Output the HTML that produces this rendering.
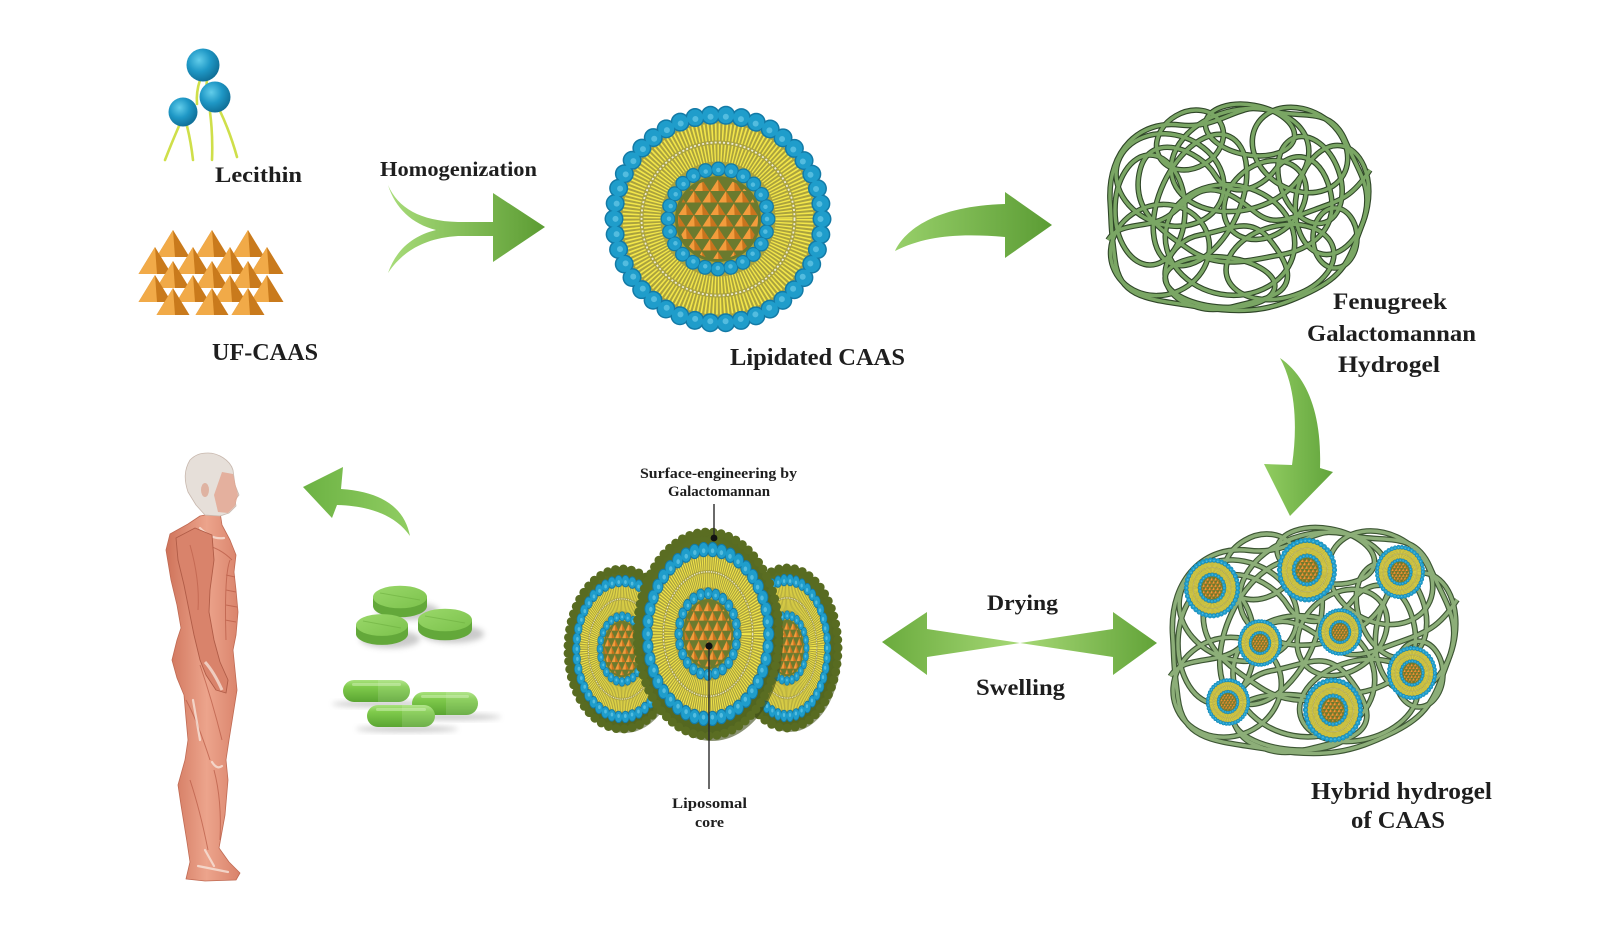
<!DOCTYPE html>
<html><head><meta charset="utf-8">
<style>
html,body{margin:0;padding:0;background:#fff;}
svg{display:block;}
text{font-family:"Liberation Serif","DejaVu Serif",serif;font-weight:bold;fill:#1e1e1e;}
</style></head>
<body>
<svg width="1614" height="933" viewBox="0 0 1614 933" xmlns="http://www.w3.org/2000/svg" xmlns:xlink="http://www.w3.org/1999/xlink">
<defs>
 <radialGradient id="bh" cx="0.38" cy="0.35" r="0.7">
  <stop offset="0" stop-color="#62cdea"/><stop offset="0.5" stop-color="#1f98c6"/><stop offset="1" stop-color="#0e6b93"/>
 </radialGradient>
 <linearGradient id="gA1" gradientUnits="userSpaceOnUse" x1="388" y1="0" x2="545" y2="0"><stop offset="0" stop-color="#a8dc7a"/><stop offset="1" stop-color="#5c9c33"/></linearGradient>
 <linearGradient id="gA2" gradientUnits="userSpaceOnUse" x1="895" y1="0" x2="1052" y2="0"><stop offset="0" stop-color="#98d06a"/><stop offset="1" stop-color="#5b9c34"/></linearGradient>
 <linearGradient id="gA3" gradientUnits="userSpaceOnUse" x1="1265" y1="0" x2="1333" y2="0"><stop offset="0" stop-color="#90cc60"/><stop offset="1" stop-color="#62a43c"/></linearGradient>
 <linearGradient id="gA4" gradientUnits="userSpaceOnUse" x1="303" y1="0" x2="410" y2="0"><stop offset="0" stop-color="#6cb243"/><stop offset="1" stop-color="#90cd62"/></linearGradient>
 <linearGradient id="gDL" gradientUnits="userSpaceOnUse" x1="882" y1="0" x2="1020" y2="0"><stop offset="0" stop-color="#6aab3d"/><stop offset="1" stop-color="#a6d876"/></linearGradient>
 <linearGradient id="gDR" gradientUnits="userSpaceOnUse" x1="1020" y1="0" x2="1157" y2="0"><stop offset="0" stop-color="#a6d876"/><stop offset="1" stop-color="#62a338"/></linearGradient>
 <linearGradient id="cap" x1="0" y1="0" x2="0" y2="1"><stop offset="0" stop-color="#a9e27e"/><stop offset="0.3" stop-color="#80cb4c"/><stop offset="1" stop-color="#5aa532"/></linearGradient>
 <linearGradient id="tabTop" x1="0" y1="0" x2="1" y2="1"><stop offset="0" stop-color="#9ad86a"/><stop offset="1" stop-color="#7cc24c"/></linearGradient>
 <radialGradient id="gal" cx="0.45" cy="0.42" r="0.6"><stop offset="0" stop-color="#6a7f2b"/><stop offset="1" stop-color="#51641f"/></radialGradient>
 <linearGradient id="skin" x1="0" y1="0" x2="1" y2="0"><stop offset="0" stop-color="#cf735a"/><stop offset="0.55" stop-color="#eca48c"/><stop offset="1" stop-color="#d9826a"/></linearGradient>
 <filter id="bl" x="-50%" y="-50%" width="200%" height="200%"><feGaussianBlur stdDeviation="3"/></filter>

 <pattern id="trip" patternUnits="userSpaceOnUse" width="16" height="24" x="-8" y="-40">
  <rect width="16" height="24" fill="#6b7a2e"/>
  <polygon points="8,0.5 0.5,12 15.5,12" fill="#c8741e"/>
  <polygon points="8,0.5 0.5,12 8.6,12" fill="#f39c3c"/>
  <polygon points="0,12 -7.5,23.5 7.5,23.5" fill="#c8741e"/>
  <polygon points="0,12 -7.5,23.5 0.6,23.5" fill="#f39c3c"/>
  <polygon points="16,12 8.5,23.5 23.5,23.5" fill="#c8741e"/>
  <polygon points="16,12 8.5,23.5 16.6,23.5" fill="#f39c3c"/>
 </pattern>

 <g id="lipo">
  <circle r="98" fill="#aaa23e"/>
  <circle r="87" fill="none" stroke="#f3e64a" stroke-width="17" stroke-dasharray="1.6 2"/>
  <circle r="66" fill="none" stroke="#f3e64a" stroke-width="17" stroke-dasharray="1.4 1.8"/>
  <circle r="76.5" fill="none" stroke="#ffffff" stroke-width="1.8" stroke-dasharray="2 2.2" opacity="0.8"/>
  <circle r="104" fill="none" stroke="#137aa6" stroke-width="19" stroke-linecap="round" stroke-dasharray="0 15.558"/>
  <circle r="104" fill="none" stroke="#1f9dcb" stroke-width="16" stroke-linecap="round" stroke-dasharray="0 15.558"/>
  <circle r="102.5" fill="none" stroke="#7dd6f0" stroke-width="6" stroke-linecap="round" stroke-dasharray="0 15.334" opacity="0.55"/>
  <circle r="50" fill="none" stroke="#137aa6" stroke-width="15" stroke-linecap="round" stroke-dasharray="0 13.09"/>
  <circle r="50" fill="none" stroke="#1f9dcb" stroke-width="12.5" stroke-linecap="round" stroke-dasharray="0 13.09"/>
  <circle r="49" fill="none" stroke="#7dd6f0" stroke-width="4.5" stroke-linecap="round" stroke-dasharray="0 12.828" opacity="0.55"/>
  <circle r="43" fill="#6b7a2e"/>
  <circle r="40" fill="url(#trip)"/>
 </g>

 <g id="py">
  <polygon points="0,0 -16.5,27 16.5,27" fill="#c97a1c"/>
  <polygon points="0,0 -16.5,27 2,27" fill="#f1aa48"/>
 </g>

 <g id="tng" fill="none">
  <path d="M1110,200 C1108,150 1140,120 1180,125 S1240,100 1270,110 S1330,105 1345,140 S1375,190 1362,225 S1345,275 1310,292 S1250,315 1200,307 S1120,300 1115,260 S1112,230 1110,200Z"/>
  <path d="M1140,170 C1150,130 1200,150 1215,175 S1260,190 1275,170 S1320,150 1330,190 S1310,250 1280,255 S1220,270 1190,250 S1130,210 1140,170Z"/>
  <path d="M1180,300 C1150,280 1170,240 1200,235 S1250,215 1270,240 S1300,290 1260,300 S1210,315 1180,300Z"/>
  <path d="M1108,240 C1120,220 1150,230 1170,215 S1200,180 1230,195 S1260,230 1300,215 S1350,200 1370,170"/>
  <ellipse cx="1170" cy="180" rx="55" ry="45" transform="rotate(20 1170 180)"/>
  <ellipse cx="1240" cy="160" rx="70" ry="50" transform="rotate(-15 1240 160)"/>
  <ellipse cx="1300" cy="150" rx="50" ry="40" transform="rotate(30 1300 150)"/>
  <ellipse cx="1332" cy="200" rx="36" ry="55" transform="rotate(10 1332 200)"/>
  <ellipse cx="1160" cy="250" rx="50" ry="45" transform="rotate(-20 1160 250)"/>
  <ellipse cx="1230" cy="240" rx="65" ry="55" transform="rotate(10 1230 240)"/>
  <ellipse cx="1280" cy="262" rx="55" ry="36" transform="rotate(-15 1280 262)"/>
  <ellipse cx="1200" cy="200" rx="40" ry="70" transform="rotate(25 1200 200)"/>
  <ellipse cx="1265" cy="200" rx="45" ry="35" transform="rotate(-40 1265 200)"/>
  <ellipse cx="1150" cy="210" rx="35" ry="55"/>
  <ellipse cx="1310" cy="180" rx="30" ry="45" transform="rotate(-20 1310 180)"/>
  <ellipse cx="1220" cy="282" rx="55" ry="25" transform="rotate(5 1220 282)"/>
  <ellipse cx="1250" cy="130" rx="45" ry="25" transform="rotate(10 1250 130)"/>
  <ellipse cx="1190" cy="140" rx="35" ry="28" transform="rotate(-30 1190 140)"/>
  <ellipse cx="1335" cy="238" rx="22" ry="30"/>
 </g>
</defs>
<rect width="1614" height="933" fill="#fff"/>

<!-- Lecithin -->
<g fill="none" stroke="#cfdf4a" stroke-width="2.6" stroke-linecap="round">
 <path d="M200,80 Q196,92 197,104"/>
 <path d="M207,80 Q206,92 204,104"/>
 <path d="M179,126 Q172,142 165,160"/>
 <path d="M187,126 Q191,142 193,160"/>
 <path d="M210,112 Q213,135 212,160"/>
 <path d="M220,111 Q230,132 237,157"/>
</g>
<circle cx="203" cy="65" r="16.5" fill="url(#bh)"/>
<circle cx="215" cy="97" r="15.5" fill="url(#bh)"/>
<circle cx="183" cy="112" r="14.5" fill="url(#bh)"/>
<text x="215" y="182" font-size="22" textLength="87" lengthAdjust="spacingAndGlyphs">Lecithin</text>

<!-- UF-CAAS pyramids -->
<use href="#py" xlink:href="#py" x="173" y="230"/><use href="#py" xlink:href="#py" x="212" y="230"/><use href="#py" xlink:href="#py" x="248" y="230"/>
<use href="#py" xlink:href="#py" x="155" y="247"/><use href="#py" xlink:href="#py" x="193" y="247"/><use href="#py" xlink:href="#py" x="230" y="247"/><use href="#py" xlink:href="#py" x="267" y="247"/>
<use href="#py" xlink:href="#py" x="173" y="261"/><use href="#py" xlink:href="#py" x="212" y="261"/><use href="#py" xlink:href="#py" x="248" y="261"/>
<use href="#py" xlink:href="#py" x="155" y="275"/><use href="#py" xlink:href="#py" x="193" y="275"/><use href="#py" xlink:href="#py" x="230" y="275"/><use href="#py" xlink:href="#py" x="267" y="275"/>
<use href="#py" xlink:href="#py" x="173" y="288"/><use href="#py" xlink:href="#py" x="212" y="288"/><use href="#py" xlink:href="#py" x="248" y="288"/>
<text x="212" y="360" font-size="24" textLength="106" lengthAdjust="spacingAndGlyphs">UF-CAAS</text>

<text x="380" y="176" font-size="21" textLength="157" lengthAdjust="spacingAndGlyphs">Homogenization</text>
<path fill="url(#gA1)" d="M388,185 C398,208 420,221 458,222 L493,222 L493,193 L545,227 L493,262 L493,236 L458,236 C424,238 402,252 388,273 C396,250 412,236 436,230 C412,224 395,208 388,185 Z"/>

<!-- Lipidated CAAS -->
<use href="#lipo" xlink:href="#lipo" transform="translate(718,219)"/>
<text x="730" y="365" font-size="24" textLength="175" lengthAdjust="spacingAndGlyphs">Lipidated CAAS</text>

<path fill="url(#gA2)" d="M895,251 C905,230 935,206 1005,204 L1005,192 L1052,225 L1005,258 L1005,237 C958,233 925,236 895,251 Z"/>

<!-- Fenugreek tangle -->
<use href="#tng" xlink:href="#tng" stroke="#2f4628" stroke-width="5.6"/>
<use href="#tng" xlink:href="#tng" stroke="#7aa664" stroke-width="3.4"/>
<text x="1333" y="309" font-size="23" textLength="114" lengthAdjust="spacingAndGlyphs">Fenugreek</text>
<text x="1307" y="341" font-size="23" textLength="169" lengthAdjust="spacingAndGlyphs">Galactomannan</text>
<text x="1338" y="372" font-size="23" textLength="102" lengthAdjust="spacingAndGlyphs">Hydrogel</text>

<path fill="url(#gA3)" d="M1280,358 C1305,375 1322,410 1320,468 L1333,472 L1290,516 L1264,464 L1292,465 C1298,425 1295,385 1280,358 Z"/>

<!-- Hybrid hydrogel -->
<g transform="matrix(1.095 0 0 1.095 -42.975 413.5)">
 <use href="#tng" xlink:href="#tng" stroke="#3d5634" stroke-width="5.2"/>
 <use href="#tng" xlink:href="#tng" stroke="#8cae78" stroke-width="3.1"/>
</g>
<use href="#lipo" xlink:href="#lipo" transform="translate(1212,588) scale(0.248,0.268)"/>
<use href="#lipo" xlink:href="#lipo" transform="translate(1307,570) scale(0.265,0.286)"/>
<use href="#lipo" xlink:href="#lipo" transform="translate(1400,572) scale(0.221,0.239)"/>
<use href="#lipo" xlink:href="#lipo" transform="translate(1260,643) scale(0.195,0.21)"/>
<use href="#lipo" xlink:href="#lipo" transform="translate(1340,632) scale(0.195,0.21)"/>
<use href="#lipo" xlink:href="#lipo" transform="translate(1412,673) scale(0.221,0.239)"/>
<use href="#lipo" xlink:href="#lipo" transform="translate(1228,702) scale(0.195,0.21)"/>
<use href="#lipo" xlink:href="#lipo" transform="translate(1333,710) scale(0.265,0.286)"/>
<text x="1311" y="799" font-size="24" textLength="181" lengthAdjust="spacingAndGlyphs">Hybrid hydrogel</text>
<text x="1351" y="828" font-size="24" textLength="94" lengthAdjust="spacingAndGlyphs">of CAAS</text>

<!-- Drying / swelling -->
<path fill="url(#gDL)" d="M882,642 L927,612 L927,629 L1020,643 L927,657 L927,675 Z"/>
<path fill="url(#gDR)" d="M1157,643 L1113,612 L1113,629 L1020,643 L1113,657 L1113,675 Z"/>
<text x="987" y="610" font-size="22" textLength="71" lengthAdjust="spacingAndGlyphs">Drying</text>
<text x="976" y="695" font-size="23" textLength="89" lengthAdjust="spacingAndGlyphs">Swelling</text>

<!-- Galactomannan cluster -->
<ellipse cx="625" cy="653" rx="54" ry="80" fill="#3c4a16" opacity="0.55"/>
<ellipse cx="622" cy="649" rx="54" ry="80" fill="url(#gal)" stroke="#586b21" stroke-width="9" stroke-linecap="round" stroke-dasharray="0 8"/>
<use href="#lipo" xlink:href="#lipo" transform="translate(622,649) scale(0.44,0.655)"/>
<ellipse cx="790" cy="652" rx="51" ry="80" fill="#3c4a16" opacity="0.55"/>
<ellipse cx="787" cy="648" rx="51" ry="80" fill="url(#gal)" stroke="#586b21" stroke-width="9" stroke-linecap="round" stroke-dasharray="0 8"/>
<use href="#lipo" xlink:href="#lipo" transform="translate(787,648) scale(0.39,0.655)"/>
<ellipse cx="712" cy="639" rx="71" ry="102" fill="#3c4a16" opacity="0.6"/>
<ellipse cx="708" cy="634" rx="71" ry="102" fill="url(#gal)" stroke="#5a6d22" stroke-width="9" stroke-linecap="round" stroke-dasharray="0 8"/>
<use href="#lipo" xlink:href="#lipo" transform="translate(708,634) scale(0.584,0.814)"/>

<text x="640" y="478" font-size="15" textLength="157" lengthAdjust="spacingAndGlyphs">Surface-engineering by</text>
<text x="668" y="496" font-size="15" textLength="102" lengthAdjust="spacingAndGlyphs">Galactomannan</text>
<line x1="714" y1="504" x2="714" y2="538" stroke="#2a2a2a" stroke-width="1.4"/>
<circle cx="714" cy="538" r="3.4" fill="#111"/>
<line x1="709" y1="646" x2="709" y2="789" stroke="#2a2a2a" stroke-width="1.4"/>
<circle cx="709" cy="646" r="3.6" fill="#111"/>
<text x="672" y="808" font-size="15" textLength="75" lengthAdjust="spacingAndGlyphs">Liposomal</text>
<text x="695" y="827" font-size="15" textLength="29" lengthAdjust="spacingAndGlyphs">core</text>

<!-- arrow to human -->
<path fill="url(#gA4)" d="M410,536 C405,510 385,492 341,489 L343,467 L303,487 L332,518 L337,505 C370,506 395,515 410,536 Z"/>

<!-- tablets -->
<ellipse cx="408" cy="611" rx="31" ry="9" fill="#8a8a8a" opacity="0.45" filter="url(#bl)"/>
<path d="M373,597 L373,606 A27,11.3 0 0 0 427,606 L427,597 Z" fill="#63a83a"/>
<ellipse cx="400" cy="597" rx="27" ry="11.3" fill="url(#tabTop)"/>
<path d="M380,593 L420,600" stroke="#6eb040" stroke-width="1" opacity="0.6"/>
<ellipse cx="453" cy="634" rx="31" ry="9" fill="#8a8a8a" opacity="0.45" filter="url(#bl)"/>
<path d="M418,620 L418,629 A27,11.3 0 0 0 472,629 L472,620 Z" fill="#63a83a"/>
<ellipse cx="445" cy="620" rx="27" ry="11.3" fill="url(#tabTop)"/>
<path d="M425,616 L465,623" stroke="#6eb040" stroke-width="1" opacity="0.6"/>
<ellipse cx="390" cy="639" rx="30" ry="9" fill="#8a8a8a" opacity="0.45" filter="url(#bl)"/>
<path d="M356,625 L356,634 A26,10.9 0 0 0 408,634 L408,625 Z" fill="#63a83a"/>
<ellipse cx="382" cy="625" rx="26" ry="10.9" fill="url(#tabTop)"/>
<path d="M363,621 L401,628" stroke="#6eb040" stroke-width="1" opacity="0.6"/>

<!-- capsules -->
<ellipse cx="382" cy="704" rx="50" ry="3" fill="#777" opacity="0.4" filter="url(#bl)"/>
<rect x="343" y="680" width="67" height="22" rx="11" fill="url(#cap)"/>
<path d="M378,680 L399,680 A11,11 0 0 1 399,702 L378,702 Z" fill="#fff" opacity="0.12"/>
<rect x="352" y="683" width="49" height="3" rx="1.5" fill="#d9f5c2" opacity="0.45"/>
<ellipse cx="451" cy="717" rx="50" ry="3" fill="#777" opacity="0.4" filter="url(#bl)"/>
<rect x="412" y="692" width="66" height="23" rx="11.5" fill="url(#cap)"/>
<path d="M446,692 L466.5,692 A11.5,11.5 0 0 1 466.5,715 L446,715 Z" fill="#fff" opacity="0.12"/>
<rect x="421" y="695" width="48" height="3" rx="1.5" fill="#d9f5c2" opacity="0.45"/>
<ellipse cx="407" cy="729" rx="51" ry="3" fill="#777" opacity="0.4" filter="url(#bl)"/>
<rect x="367" y="705" width="68" height="22" rx="11" fill="url(#cap)"/>
<path d="M402,705 L424,705 A11,11 0 0 1 424,727 L402,727 Z" fill="#fff" opacity="0.12"/>
<rect x="376" y="708" width="50" height="3" rx="1.5" fill="#d9f5c2" opacity="0.45"/>

<!-- human -->
<polygon points="220,512 222,525 230,540 236,555 234,572 236,590 238,612 236,635 233,650 235,670 237,690 233,715 229,740 226,760 228,780 225,815 219,848 229,862 240,873 236,880 205,881 186,879 190,862 187,842 181,805 178,785 185,760 188,740 186,718 184,695 177,678 172,660 177,640 181,628 177,605 171,580 166,550 170,534 188,524 200,516" fill="url(#skin)" stroke="#c06a53" stroke-width="0.8" stroke-linejoin="round"/>
<g fill="none" stroke="#b85a45" stroke-width="1" opacity="0.7">
 <path d="M226,575 L235,577"/><path d="M226,590 L236,592"/><path d="M226,605 L237,607"/><path d="M225,620 L236,622"/>
 <path d="M230,560 Q224,575 226,640"/><path d="M186,700 Q197,720 210,760"/><path d="M200,665 Q212,700 222,740"/>
 <path d="M190,780 Q200,810 208,850"/><path d="M214,770 Q222,800 220,840"/><path d="M178,560 Q190,580 196,600"/>
 <path d="M205,545 Q220,548 232,560"/>
</g>
<g fill="none" stroke="#f7e4da" stroke-width="2.2" opacity="0.8" stroke-linecap="round">
 <path d="M212,762 Q217,770 222,766"/><path d="M205,850 L214,866"/><path d="M198,866 L228,872"/><path d="M200,528 Q212,540 224,538"/>
 <path d="M193,700 L200,740"/>
</g>
<polygon points="176,538 195,528 212,535 214,560 210,590 209,612 214,640 220,662 228,680 226,693 216,690 206,675 200,660 194,635 189,610 184,585 178,560" fill="#d9836b" stroke="#b05c47" stroke-width="0.9" stroke-linejoin="round"/>
<path d="M205,662 Q214,672 222,690" stroke="#f4ded4" stroke-width="3" fill="none" opacity="0.8"/>
<path d="M190,545 Q200,580 198,610" stroke="#b85a45" stroke-width="1" fill="none" opacity="0.6"/>
<path d="M208,453 C218,453 230,460 233,470 L235,485 L239,495 L235,500 L236,506 L229,513 L220,516 L205,515 L196,505 L188,492 C184,480 184,470 190,460 C195,455 200,453 208,453 Z" fill="#e6dfd9" stroke="#c8b8ae" stroke-width="0.8" stroke-linejoin="round"/>
<path d="M222,472 L233,474 L238,495 L235,506 L228,513 L218,512 L214,495 Z" fill="#e3a08a" opacity="0.75" stroke-linejoin="round"/>
<ellipse cx="205" cy="490" rx="4" ry="7" fill="#dfb3a2"/>
</svg>
</body></html>
